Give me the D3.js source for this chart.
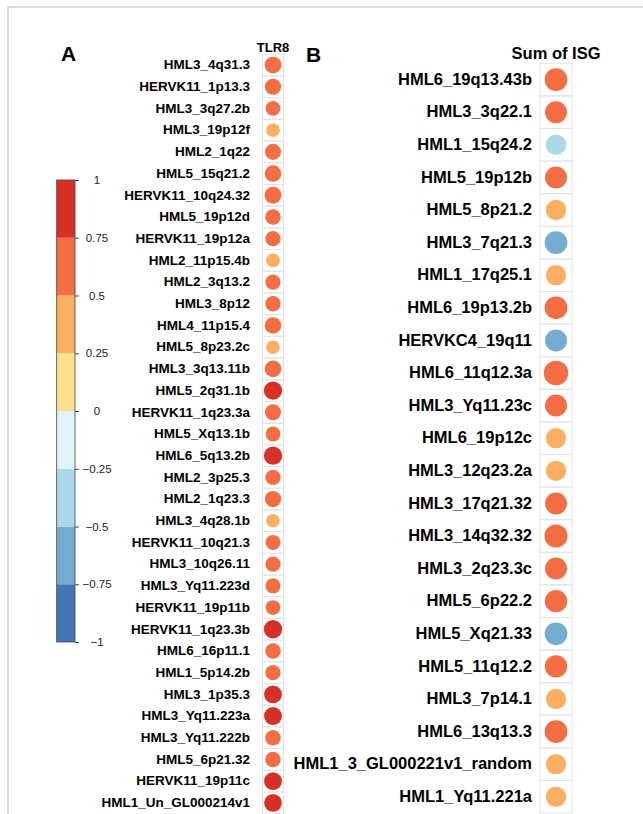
<!DOCTYPE html>
<html>
<head>
<meta charset="utf-8">
<script src="https://cdn.jsdelivr.net/npm/d3@7"></script>
<style>
  html, body { margin: 0; padding: 0; background: #fff; }
  svg { display: block; font-family: "Liberation Sans", Arial, Helvetica, sans-serif; }
</style>
</head>
<body>
<svg id="chart" width="643" height="814"></svg>
<script>
// Panel A: correlation of each locus with TLR8
const tlr8Labels = [
  "HML3_4q31.3", "HERVK11_1p13.3", "HML3_3q27.2b", "HML3_19p12f", "HML2_1q22",
  "HML5_15q21.2", "HERVK11_10q24.32", "HML5_19p12d", "HERVK11_19p12a", "HML2_11p15.4b",
  "HML2_3q13.2", "HML3_8p12", "HML4_11p15.4", "HML5_8p23.2c", "HML3_3q13.11b",
  "HML5_2q31.1b", "HERVK11_1q23.3a", "HML5_Xq13.1b", "HML6_5q13.2b", "HML2_3p25.3",
  "HML2_1q23.3", "HML3_4q28.1b", "HERVK11_10q21.3", "HML3_10q26.11", "HML3_Yq11.223d",
  "HERVK11_19p11b", "HERVK11_1q23.3b", "HML6_16p11.1", "HML1_5p14.2b", "HML3_1p35.3",
  "HML3_Yq11.223a", "HML3_Yq11.222b", "HML5_6p21.32", "HERVK11_19p11c", "HML1_Un_GL000214v1"
];
const tlr8Values = [
  0.74, 0.68, 0.57, 0.49, 0.68,
  0.72, 0.74, 0.63, 0.61, 0.49,
  0.61, 0.61, 0.72, 0.48, 0.72,
  0.88, 0.68, 0.58, 0.88, 0.62,
  0.70, 0.48, 0.60, 0.61, 0.59,
  0.57, 0.88, 0.63, 0.60, 0.83,
  0.84, 0.62, 0.62, 0.83, 0.83
];

// Panel B: correlation of each locus with the summed ISG score
const isgLabels = [
  "HML6_19q13.43b", "HML3_3q22.1", "HML1_15q24.2", "HML5_19p12b", "HML5_8p21.2",
  "HML3_7q21.3", "HML1_17q25.1", "HML6_19p13.2b", "HERVKC4_19q11", "HML6_11q12.3a",
  "HML3_Yq11.23c", "HML6_19p12c", "HML3_12q23.2a", "HML3_17q21.32", "HML3_14q32.32",
  "HML3_2q23.3c", "HML5_6p22.2", "HML5_Xq21.33", "HML5_11q12.2", "HML3_7p14.1",
  "HML6_13q13.3", "HML1_3_GL000221v1_random", "HML1_Yq11.221a"
];
const isgValues = [
  0.60, 0.56, -0.49, 0.56, 0.48,
  -0.60, 0.48, 0.60, -0.56, 0.70,
  0.56, 0.48, 0.48, 0.56, 0.62,
  0.56, 0.58, -0.60, 0.58, 0.48,
  0.60, 0.48, 0.48
];

// Colour key
const legendTicks = [1, 0.75, 0.5, 0.25, 0, -0.25, -0.5, -0.75, -1];
const palette = ["#4575B4", "#74ADD1", "#ABD9E9", "#E0F3F8", "#FEE090", "#FDAE61", "#F46D43", "#D73027"];
const bandEdges = [-0.75, -0.5, -0.25, 0, 0.25, 0.5, 0.75];

const color = d3.scaleThreshold().domain(bandEdges).range(palette);

const svg = d3.select("#chart");

// outer frame
svg.append("rect")
  .attr("x", 8).attr("y", 7)
  .attr("width", 700).attr("height", 900)
  .attr("fill", "none")
  .attr("stroke", "#cfcfcf")
  .attr("stroke-width", 1.5);

// panel letters
svg.append("text").attr("x", 61).attr("y", 61)
  .attr("font-size", 21).attr("font-weight", "bold").text("A");
svg.append("text").attr("x", 306).attr("y", 61.7)
  .attr("font-size", 21).attr("font-weight", "bold").text("B");

// one-column correlation matrix with circle glyphs
function drawColumn(opts) {
  const { labels, values, header, x0, x1, y0, rowH, labelSize, headerSize, labelPad, headerPad } = opts;
  const g = svg.append("g");
  const y = d3.scaleBand().domain(labels).range([y0, y0 + rowH * labels.length]);
  const x = d3.scaleBand().domain([header]).range([x0, x1]);
  const r = d3.scaleSqrt().domain([0, 1]).range([0, 0.45 * y.bandwidth()]);

  // cell grid
  g.selectAll("rect.cell").data(labels).join("rect")
    .attr("class", "cell")
    .attr("x", x(header)).attr("y", d => y(d))
    .attr("width", x.bandwidth()).attr("height", y.bandwidth())
    .attr("fill", "none").attr("stroke", "#e3e3e3").attr("stroke-width", 1);

  // circles
  g.selectAll("circle").data(labels.map((l, i) => ({ l, v: values[i] }))).join("circle")
    .attr("cx", x(header) + x.bandwidth() / 2)
    .attr("cy", d => y(d.l) + y.bandwidth() / 2)
    .attr("r", d => r(Math.abs(d.v)))
    .attr("fill", d => color(d.v));

  // row labels
  const ay = g.append("g").attr("transform", `translate(${x0},0)`)
    .call(d3.axisLeft(y).tickSize(0).tickPadding(labelPad));
  ay.select(".domain").remove();
  ay.selectAll("text")
    .attr("font-size", labelSize).attr("font-weight", "bold").attr("fill", "#000")
    .attr("font-family", "Liberation Sans, Arial, sans-serif");

  // column header
  const ax = g.append("g").attr("transform", `translate(0,${y0})`)
    .call(d3.axisTop(x).tickSize(0).tickPadding(headerPad));
  ax.select(".domain").remove();
  ax.selectAll("text")
    .attr("font-size", headerSize).attr("font-weight", "bold").attr("fill", "#000")
    .attr("font-family", "Liberation Sans, Arial, sans-serif");
}

drawColumn({
  labels: tlr8Labels, values: tlr8Values, header: "TLR8",
  x0: 262.5, x1: 283.5, y0: 54.2, rowH: 21.7,
  labelSize: 13.5, headerSize: 13, labelPad: 12.5, headerPad: 2.5
});

drawColumn({
  labels: isgLabels, values: isgValues, header: "Sum of ISG",
  x0: 540, x1: 572, y0: 63.3, rowH: 32.6,
  labelSize: 16.5, headerSize: 16.5, labelPad: 8, headerPad: 4
});

// colour legend
const ly = d3.scaleLinear().domain([-1, 1]).range([642, 180]);
const legend = svg.append("g");
const bands = d3.range(palette.length).map(i => ({ lo: -1 + i * 0.25, hi: -1 + (i + 1) * 0.25, c: palette[i] }));
legend.selectAll("rect.band").data(bands).join("rect")
  .attr("class", "band")
  .attr("x", 56.7).attr("width", 18.3)
  .attr("y", d => ly(d.hi)).attr("height", d => ly(d.lo) - ly(d.hi))
  .attr("fill", d => d.c);
legend.append("rect")
  .attr("x", 56.7).attr("y", ly(1)).attr("width", 18.3).attr("height", ly(-1) - ly(1))
  .attr("fill", "none").attr("stroke", "#444").attr("stroke-width", 0.8);

const lAxis = legend.append("g").attr("transform", "translate(75,0)")
  .call(d3.axisRight(ly).tickValues(legendTicks).tickSize(4).tickFormat(d3.format("~g")));
lAxis.select(".domain").remove();
lAxis.selectAll("line").attr("stroke", "#444");
lAxis.selectAll("text")
  .attr("x", 22).attr("text-anchor", "middle")
  .attr("font-size", 11.5).attr("fill", "#222")
  .attr("font-family", "Liberation Sans, Arial, sans-serif");
</script>
</body>
</html>
